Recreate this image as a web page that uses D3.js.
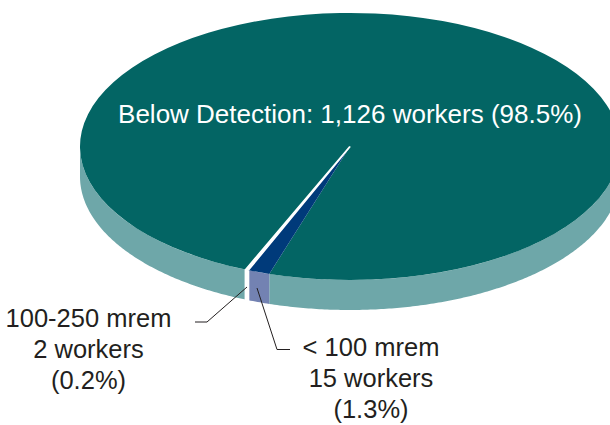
<!DOCTYPE html>
<html>
<head>
<meta charset="utf-8">
<script src="https://cdn.jsdelivr.net/npm/d3@7"></script>
<style>
  body { margin: 0; background: #fff; }
  svg { display: block; font-family: "Liberation Sans", Arial, Helvetica, sans-serif; }
</style>
</head>
<body>
<div id="chart"></div>
<script>
// dose categories and worker counts
const categories = ["Below Detection", "< 100 mrem", "100-250 mrem"];
const workers = [1126, 15, 2];
const percents = ["98.5%", "1.3%", "0.2%"];
const topColors = ["#036564", "#003a7a", "#ffffff"];
const sideColors = ["#6ea7a9", "#7382b2", "#ffffff"];

const width = 610;
const height = 425;

const svg = d3.select("#chart")
  .append("svg")
  .attr("width", width)
  .attr("height", height);

// ellipse of the pie top and thickness of the side
const cx = 350, cy = 146.5, rx = 270, ry = 133.5, depth = 30;

//start angle chosen so the small slices sit front-left
const pie = d3.pie()
  .value((d) => d)
  .sort(null)
  .startAngle(-157.25 * Math.PI / 180)
  .endAngle((360 - 157.25) * Math.PI / 180);
const arcs = pie(workers);

// pie angle (0 = 12 o'clock, clockwise) -> screen point on the ellipse
const pt = (a, dy = 0) => [cx + rx * Math.sin(a), cy - ry * Math.cos(a) + dy];

const line = d3.line();

// side walls: only the part of each slice that faces the viewer
const sides = svg.append("g");
arcs.forEach((d, i) => {
  for (let k = -1; k <= 1; k++) {
    const lo = Math.max(d.startAngle, Math.PI / 2 + 2 * Math.PI * k);
    const hi = Math.min(d.endAngle, Math.PI * 1.5 + 2 * Math.PI * k);
    if (hi <= lo) continue;
    const n = Math.max(2, Math.ceil((hi - lo) / 0.01));
    const top = d3.range(n + 1).map((j) => pt(lo + (hi - lo) * j / n));
    const bottom = top.slice().reverse().map((p) => [p[0], p[1] + depth]);
    sides.append("path")
      .attr("d", line(top.concat(bottom)) + "Z")
      .attr("fill", sideColors[i])
      .attr("stroke", i === 2 ? "#fff" : "none")
      .attr("stroke-width", 2);
  }
});

// top face: circular arcs squashed into the ellipse
const arc = d3.arc().innerRadius(0).outerRadius(rx);
svg.append("g")
  .attr("transform", `translate(${cx},${cy}) scale(1,${ry / rx})`)
  .selectAll("path")
  .data(arcs)
  .enter()
  .append("path")
    .attr("d", arc)
    .attr("fill", (d, i) => topColors[i])
    .attr("stroke", (d, i) => (i === 2 ? "#fff" : "none"))
    .attr("stroke-width", 2)
    .attr("stroke-linejoin", "bevel");

// big slice label
svg.append("text")
  .attr("x", cx)
  .attr("y", 123)
  .attr("text-anchor", "middle")
  .attr("fill", "#fff")
  .attr("font-size", 26)
  .text(`${categories[0]}: ${d3.format(",")(workers[0])} workers (${percents[0]})`);

// leader lines and labels for the small slices
const labels = [
  { i: 2, x: 88.5, y: 326.5, line: [[247, 287], [207, 322], [195, 322]] },
  { i: 1, x: 371, y: 356, line: [[257, 288], [277, 349.5], [290, 349.5]] }
];

labels.forEach((l) => {
  svg.append("path")
    .attr("d", line(l.line))
    .attr("fill", "none")
    .attr("stroke", "#231f20")
    .attr("stroke-width", 1);
  const t = svg.append("text")
    .attr("text-anchor", "middle")
    .attr("fill", "#231f20")
    .attr("font-size", 25.5);
  [categories[l.i], `${workers[l.i]} workers`, `(${percents[l.i]})`].forEach((s, j) => {
    t.append("tspan")
      .attr("x", l.x)
      .attr("y", l.y + j * 31)
      .text(s);
  });
});
</script>
</body>
</html>
